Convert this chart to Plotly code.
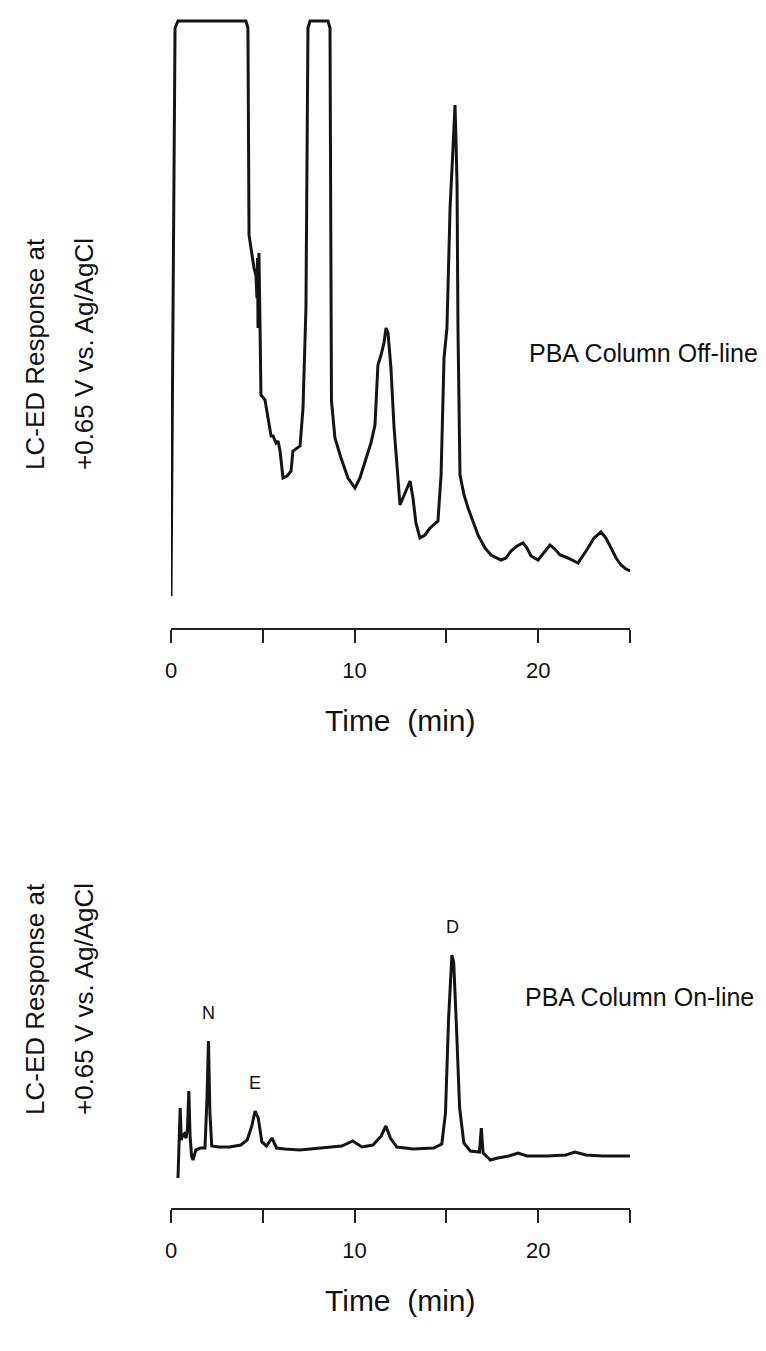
import plotly.graph_objects as go
from plotly.subplots import make_subplots

# ---- Top chromatogram: PBA Column Off-line (time in min, response in arbitrary units) ----
off_t = [0.0, 0.11, 0.22, 0.38, 4.08, 4.19, 4.25, 4.52, 4.63, 4.68, 4.71, 4.74, 4.79, 4.85, 4.90,
         5.12, 5.45, 5.56, 5.72, 5.83, 5.94, 6.10, 6.32, 6.54, 6.64, 7.03, 7.19, 7.35, 7.41, 7.46,
         7.57, 8.55, 8.66, 8.71, 8.74, 8.93, 9.26, 9.64, 10.02, 10.29, 10.62, 10.89, 11.11, 11.27,
         11.44, 11.60, 11.71, 11.82, 11.98, 12.15, 12.32, 12.47, 12.68, 13.02, 13.18, 13.34, 13.56,
         13.83, 14.11, 14.54, 14.71, 14.87, 15.03, 15.20, 15.36, 15.47, 15.52, 15.58, 15.63, 15.69,
         15.74, 15.96, 16.18, 16.72, 17.10, 17.43, 17.97, 18.25, 18.52, 18.85, 19.17, 19.39, 19.61,
         19.99, 20.31, 20.64, 20.91, 21.19, 21.62, 22.17, 22.71, 23.04, 23.42, 23.69, 23.97, 24.24,
         24.51, 24.78, 25.0]
off_v = [32, 320, 600, 607, 607, 600, 393, 360, 352, 330, 370, 300, 375, 300, 233,
         228, 192, 192, 185, 187, 177, 150, 152, 157, 177, 182, 220, 320, 470, 600,
         607, 607, 600, 320, 227, 190, 170, 150, 140, 150, 170, 185, 203, 263,
         273, 285, 300, 295, 260, 200, 160, 123, 132, 147, 130, 105, 90,
         93, 100, 107, 153, 270, 300, 420, 480, 523, 490, 443, 300, 220,
         153, 133, 120, 93, 80, 73, 68, 70, 77, 82, 85, 80, 72,
         68, 75, 83, 79, 73, 70, 65, 80, 90, 96, 90, 80, 70,
         63, 59, 57]

# ---- Bottom chromatogram: PBA Column On-line ----
on_t = [0.38, 0.42, 0.50, 0.56, 0.62, 0.72, 0.82, 0.90, 0.97, 1.04, 1.12, 1.20, 1.35, 1.60,
        1.85, 1.96, 2.04, 2.12, 2.22, 2.60, 3.20, 3.80, 4.15, 4.40, 4.58, 4.75, 4.95, 5.20,
        5.50, 5.75, 6.20, 7.00, 8.20, 9.30, 9.90, 10.40, 11.00, 11.45, 11.70, 11.95, 12.30,
        13.20, 14.30, 14.75, 14.95, 15.12, 15.30, 15.40, 15.55, 15.72, 15.95, 16.30, 16.80,
        16.90, 17.00, 17.40, 17.80, 18.40, 18.90, 19.40, 20.50, 21.50, 22.00, 22.60, 23.50, 25.00]
on_v = [30, 55, 100, 68, 72, 74, 70, 80, 117, 72, 52, 48, 58, 60,
        60, 110, 167, 95, 62, 61, 61, 63, 68, 82, 97, 90, 66, 62,
        70, 60, 59, 58, 60, 62, 67, 61, 63, 72, 82, 70, 61,
        59, 60, 64, 95, 190, 253, 245, 180, 100, 65, 57, 56,
        80, 55, 48, 50, 52, 55, 52, 52, 53, 56, 53, 52, 52]

x_ticks = [0, 5, 10, 15, 20, 25]
x_ticktext = ["0", "", "10", "", "20", ""]
y_title = ["LC-ED Response at", "+0.65 V vs. Ag/AgCl"]
panel_labels = ["PBA Column Off-line", "PBA Column On-line"]
peak_names = ["N", "E", "D"]
peak_times = [2.02, 4.58, 15.32]
peak_heights = [167, 97, 253]

W, H = 766, 1351
M_T, M_B = 10, 151
PH = H - M_T - M_B
def py2paper(py):
    return (H - M_B - py) / PH

X0, X1 = 163, 622
def px2paper(px):
    return (px - X0) / (X1 - X0)

TOP_AXIS, TOP_TOP = 620, 10
BOT_AXIS, BOT_TOP = 1200, 900

fig = make_subplots(rows=2, cols=1)
fig.add_trace(go.Scatter(x=off_t, y=off_v, mode="lines",
                         line=dict(color="#141414", width=3), hoverinfo="skip"), row=1, col=1)
fig.add_trace(go.Scatter(x=on_t, y=on_v, mode="lines",
                         line=dict(color="#141414", width=3), hoverinfo="skip"), row=2, col=1)

font = "Liberation Sans, Arial"
xcommon = dict(range=[0, 25], tickvals=x_ticks, ticktext=x_ticktext, ticks="outside",
               ticklen=13, tickwidth=1.8, tickcolor="#222", showline=True, linecolor="#222",
               linewidth=1.8, showgrid=False, zeroline=False,
               tickfont=dict(family=font, size=22, color="#111"),
               ticklabelstandoff=9)
ycommon = dict(showticklabels=False, showgrid=False, zeroline=False, showline=False, ticks="")

fig.update_layout(
    width=W, height=H, paper_bgcolor="white", plot_bgcolor="white", showlegend=False,
    margin=dict(l=X0, r=W - X1, t=M_T, b=M_B),
    xaxis=dict(**xcommon, anchor="y"),
    xaxis2=dict(**xcommon, anchor="y2"),
    yaxis=dict(**ycommon, domain=[py2paper(TOP_AXIS), py2paper(TOP_TOP)],
               range=[0, TOP_AXIS - TOP_TOP]),
    yaxis2=dict(**ycommon, domain=[py2paper(BOT_AXIS), py2paper(BOT_TOP)],
                range=[0, BOT_AXIS - BOT_TOP]),
)

ann = []
# x titles
for axis_py in (TOP_AXIS, BOT_AXIS):
    ann.append(dict(text="Time  (min)", x=0.5, xref="paper", y=py2paper(axis_py + 92), yref="paper",
                    xanchor="center", yanchor="middle",
                    showarrow=False, font=dict(family=font, size=30, color="#111")))
# y titles (two lines each)
for cy in (346, 991):
    for txt, cx in zip(y_title, (27, 76)):
        ann.append(dict(text=txt, x=px2paper(cx), xref="paper", y=py2paper(cy), yref="paper",
                        xanchor="center", yanchor="middle",
                        showarrow=False, textangle=-90, font=dict(family=font, size=26, color="#111")))
# panel labels
ann.append(dict(text=panel_labels[0], x=px2paper(519), y=py2paper(345), xref="paper", yref="paper",
                xanchor="left", yanchor="middle", showarrow=False,
                font=dict(family=font, size=25, color="#111")))
ann.append(dict(text=panel_labels[1], x=px2paper(515), y=py2paper(989), xref="paper", yref="paper",
                xanchor="left", yanchor="middle", showarrow=False,
                font=dict(family=font, size=25, color="#111")))
# peak letters
for name, t, h in zip(peak_names, peak_times, peak_heights):
    ann.append(dict(text=name, x=t, y=h, xref="x2", yref="y2", yshift=28, showarrow=False,
                    font=dict(family=font, size=18, color="#111")))

fig.update_layout(annotations=ann)
fig.write_html("out.html")
